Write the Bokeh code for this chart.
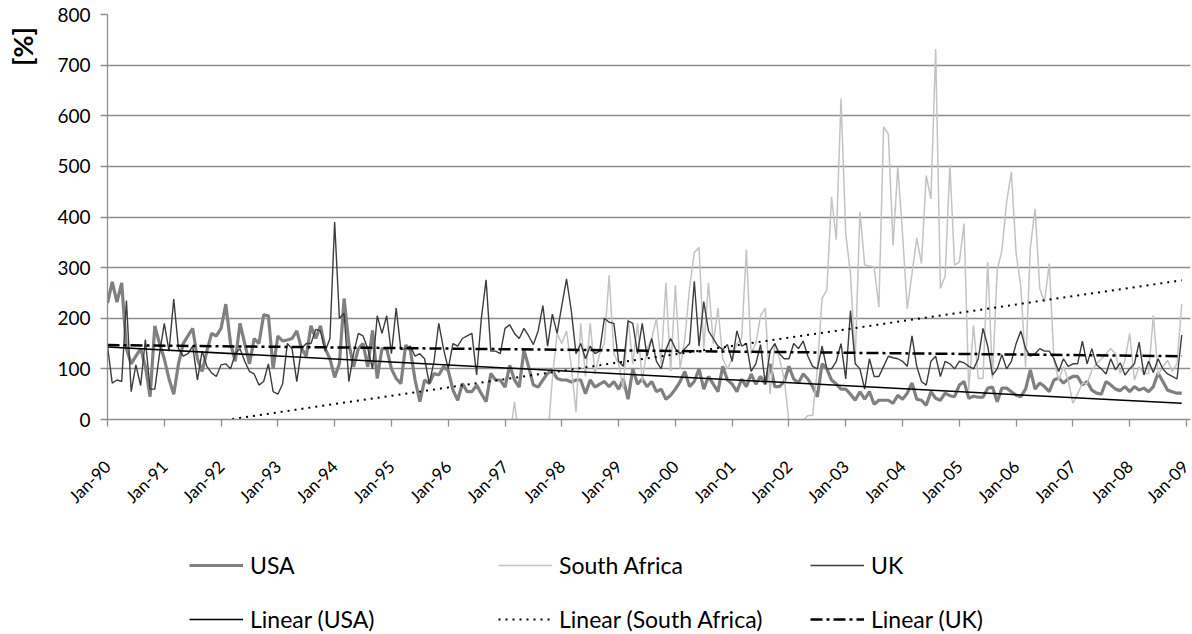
import numpy as np
from math import pi
from bokeh.plotting import figure
from bokeh.layouts import column, row
from bokeh.models import (FixedTicker, Legend, LegendItem, Range1d, Label,
                          ColumnDataSource)
from bokeh.embed import file_html
from bokeh.resources import INLINE

# ---------------- data (monthly, Jan-1990 .. Dec-2008) ----------------
tick_labels = ["Jan-90", "Jan-91", "Jan-92", "Jan-93", "Jan-94", "Jan-95",
               "Jan-96", "Jan-97", "Jan-98", "Jan-99", "Jan-00", "Jan-01",
               "Jan-02", "Jan-03", "Jan-04", "Jan-05", "Jan-06", "Jan-07",
               "Jan-08", "Jan-09"]

usa = [
    230, 272, 232, 270, 140, 110, 125, 140, 105, 45, 185, 150,   # 1990
    120, 80, 50, 110, 150, 165, 180, 120, 95, 135, 170, 165,     # 1991
    180, 228, 150, 115, 190, 150, 110, 160, 150, 207, 205, 100,  # 1992
    165, 155, 157, 160, 175, 140, 125, 185, 160, 185, 140, 120,  # 1993
    83, 110, 239, 150, 104, 140, 150, 104, 176, 81, 140, 140,    # 1994
    100, 81, 71, 147, 137, 78, 35, 78, 71, 91, 88, 104,          # 1995
    97, 58, 38, 71, 55, 55, 68, 51, 35, 91, 78, 78,              # 1996
    64, 107, 78, 64, 137, 104, 68, 64, 78, 91, 97, 81,           # 1997
    78, 78, 74, 78, 78, 51, 78, 64, 70, 75, 65, 75,              # 1998
    60, 80, 40, 100, 70, 80, 65, 75, 55, 60, 40, 48,             # 1999
    60, 75, 95, 65, 75, 100, 60, 85, 70, 55, 105, 78,            # 2000
    70, 55, 80, 65, 90, 70, 85, 70, 110, 65, 65, 75,             # 2001
    105, 80, 72, 90, 80, 65, 45, 110, 100, 78, 70, 60,           # 2002
    60, 50, 38, 55, 40, 55, 30, 38, 38, 38, 32, 48,              # 2003
    40, 52, 72, 40, 38, 28, 55, 42, 38, 52, 47, 45,              # 2004
    68, 75, 42, 46, 44, 44, 62, 64, 35, 62, 62, 55,              # 2005
    48, 45, 60, 98, 60, 72, 65, 55, 78, 82, 72, 80,              # 2006
    85, 85, 68, 75, 58, 52, 50, 75, 68, 60, 57, 65,              # 2007
    55, 65, 58, 62, 55, 65, 92, 75, 58, 55, 52, 52,              # 2008
]

south_africa = [None] * 85 + [
    -40, 35, -40,                                                  # 1997 (Feb-Apr)
    None, None, None, None, None, -40, 80, 170,                    # 1997
    150, 175, 105, 15, 190, 85, 190, 90, 130, 150, 285, 130,       # 1998
    110, 60, 200, 110, 190, 75, 140, 160, 200, 110, 270, 95,       # 1999
    265, 100, 160, 260, 330, 340, 140, 270, 150, 220, 120, 100,    # 2000
    120, 150, 160, 335, 130, 150, 205, 220, 50, 150, 120, 80,      # 2001
    -5, -30, -30, -2, 8, 8, 100, 240, 255, 440, 355, 634,          # 2002
    367, 288, 117, 410, 305, 303, 301, 222, 578, 564, 344, 499,    # 2003
    367, 219, 288, 359, 308, 482, 436, 732, 259, 283, 503, 305,    # 2004
    311, 387, 58, 186, 81, 81, 311, 81, 295, 334, 430, 489,        # 2005
    328, 262, 104, 338, 416, 259, 232, 308, 117, 78, 104, 78,      # 2006
    32, 51, 71, 71, 97, 110, 120, 130, 140, 130, 91, 117,          # 2007
    170, 78, 104, 91, 91, 206, 88, 104, 117, 95, 110, 228,         # 2008
]

uk = [
    145, 72, 78, 75, 235, 55, 108, 67, 158, 60, 60, 130,           # 1990
    190, 135, 238, 140, 125, 130, 145, 78, 135, 105, 92, 85,       # 1991
    108, 110, 100, 130, 140, 115, 95, 90, 68, 75, 110, 55,         # 1992
    50, 70, 150, 140, 75, 140, 150, 150, 178, 175, 135, 160,       # 1993
    390, 200, 210, 75, 130, 170, 165, 140, 100, 205, 170, 205,     # 1994
    130, 220, 138, 140, 145, 125, 130, 120, 71, 115, 190, 140,     # 1995
    100, 150, 145, 160, 165, 170, 88, 200, 276, 135, 135, 130,     # 1996
    180, 187, 170, 160, 180, 165, 148, 175, 225, 145, 208, 170,    # 1997
    225, 278, 215, 130, 150, 120, 145, 130, 135, 200, 192, 190,    # 1998
    115, 105, 195, 190, 130, 190, 125, 160, 115, 100, 138, 160,    # 1999
    140, 130, 140, 150, 273, 145, 233, 175, 160, 145, 138, 148,    # 2000
    115, 175, 145, 150, 95, 110, 148, 70, 135, 150, 130, 120,      # 2001
    120, 150, 140, 155, 125, 105, 100, 145, 100, 100, 115, 150,    # 2002
    80, 215, 110, 100, 60, 120, 85, 85, 105, 125, 122, 120,        # 2003
    115, 105, 165, 105, 75, 68, 115, 125, 85, 115, 110, 100,       # 2004
    115, 112, 105, 100, 120, 180, 145, 88, 100, 128, 100, 115,     # 2005
    150, 175, 140, 125, 130, 140, 135, 135, 120, 95, 120, 105,     # 2006
    110, 110, 155, 110, 140, 108, 100, 90, 120, 98, 112, 88,       # 2007
    100, 110, 153, 88, 115, 93, 120, 100, 90, 85, 80, 167,         # 2008
]

months = list(range(len(usa)))

# linear trend lines (first / last month values)
trend_x = [0, 227]
trend_usa = [143, 32]
trend_south_africa = [-35, 275]
trend_uk = [147, 125]

# ---------------- styles ----------------
FONT = "Lato"
GRID = "#8e8e8e"
STY = {
    "USA": dict(line_color="#808080", line_width=3.2),
    "South Africa": dict(line_color="#c3c3c3", line_width=1.5),
    "UK": dict(line_color="#3c3c3c", line_width=1.4),
    "Linear (USA)": dict(line_color="black", line_width=1.5),
    "Linear (South Africa)": dict(line_color="black", line_width=2, line_dash="2 5"),
    "Linear (UK)": dict(line_color="black", line_width=2.5, line_dash="12 4 3 4"),
}

src = ColumnDataSource(dict(
    m=months,
    usa=np.array(usa, dtype=float),
    sa=np.array([np.nan if v is None else v for v in south_africa], dtype=float),
    uk=np.array(uk, dtype=float),
))
tsrc = ColumnDataSource(dict(x=trend_x, usa=trend_usa, sa=trend_south_africa, uk=trend_uk))


def draw_series(fig):
    return {
        "USA": fig.line("m", "usa", source=src, **STY["USA"]),
        "South Africa": fig.line("m", "sa", source=src, **STY["South Africa"]),
        "UK": fig.line("m", "uk", source=src, **STY["UK"]),
        "Linear (USA)": fig.line("x", "usa", source=tsrc, **STY["Linear (USA)"]),
        "Linear (South Africa)": fig.line("x", "sa", source=tsrc, **STY["Linear (South Africa)"]),
        "Linear (UK)": fig.line("x", "uk", source=tsrc, **STY["Linear (UK)"]),
    }


def bare(fig):
    fig.outline_line_color = None
    fig.xgrid.visible = False
    fig.ygrid.visible = False
    fig.background_fill_color = "white"
    fig.border_fill_color = "white"


# ---------------- strip holding the "[%]" axis title ----------------
LW = 45
lf = figure(width=LW, height=520, x_range=Range1d(0, 1), y_range=Range1d(0, 1),
            output_backend="svg", toolbar_location=None,
            x_axis_type=None, y_axis_type=None, frame_align=False,
            min_border_left=0, min_border_right=0,
            min_border_top=0, min_border_bottom=0)
bare(lf)
lf.add_layout(Label(x=22, y=520 - 46, x_units="screen", y_units="screen",
                    text="[%]", angle=pi / 2, text_align="center",
                    text_baseline="middle", text_font=FONT,
                    text_font_style="bold", text_font_size="27px",
                    text_color="black"))

# ---------------- main chart ----------------
p = figure(width=1192 - LW, height=520,
           x_range=Range1d(0, 228.85), y_range=Range1d(0, 800),
           output_backend="svg", toolbar_location=None, frame_align=False,
           min_border_left=107 - LW, min_border_right=2,
           min_border_top=14, min_border_bottom=101)
p.outline_line_color = None
p.background_fill_color = "white"
p.border_fill_color = "white"
draw_series(p)

p.xaxis.ticker = FixedTicker(ticks=list(range(0, 229, 12)))
p.xaxis.major_label_overrides = {m: lab for m, lab in zip(range(0, 229, 12), tick_labels)}
p.xaxis.major_label_orientation = pi / 4
p.yaxis.ticker = FixedTicker(ticks=list(range(0, 801, 100)))

for ax in (p.xaxis, p.yaxis):
    ax.axis_line_color = GRID
    ax.axis_line_width = 1.3
    ax.major_tick_line_color = GRID
    ax.major_tick_line_width = 1.3
    ax.major_tick_in = 0
    ax.major_tick_out = 7
    ax.minor_tick_line_color = None
    ax.major_label_text_color = "black"
    ax.major_label_text_font = FONT
p.yaxis.major_label_text_font_size = "19px"
p.xaxis.major_label_text_font_size = "17px"
p.yaxis.major_label_standoff = 10
p.xaxis.major_label_standoff = 37

p.xgrid.visible = False
p.ygrid.grid_line_color = GRID
p.ygrid.grid_line_width = 1.3

# ---------------- legend strip ----------------
# same series drawn again, but the view window lies outside the data,
# so only the legend entries are visible
pl = figure(width=1192, height=114, x_range=Range1d(-100, -99), y_range=Range1d(0, 1),
            output_backend="svg", toolbar_location=None,
            x_axis_type=None, y_axis_type=None, frame_align=False,
            min_border_left=0, min_border_right=0,
            min_border_top=0, min_border_bottom=0)
bare(pl)
legend_r = draw_series(pl)

cols = [
    (189, ["USA", "Linear (USA)"]),
    (498, ["South Africa", "Linear (South Africa)"]),
    (810, ["UK", "Linear (UK)"]),
]
for x0, names in cols:
    leg = Legend(items=[LegendItem(label=n, renderers=[legend_r[n]]) for n in names],
                 location=(x0, 1), orientation="vertical",
                 glyph_width=54, glyph_height=28, label_height=28,
                 label_standoff=7, spacing=26, padding=0, margin=0,
                 border_line_color=None, background_fill_alpha=0,
                 label_text_font=FONT, label_text_font_size="23px",
                 label_text_color="black")
    pl.add_layout(leg)

layout = column(row(lf, p, spacing=0), pl, spacing=0)
open("out.html", "w").write(file_html(layout, INLINE))
